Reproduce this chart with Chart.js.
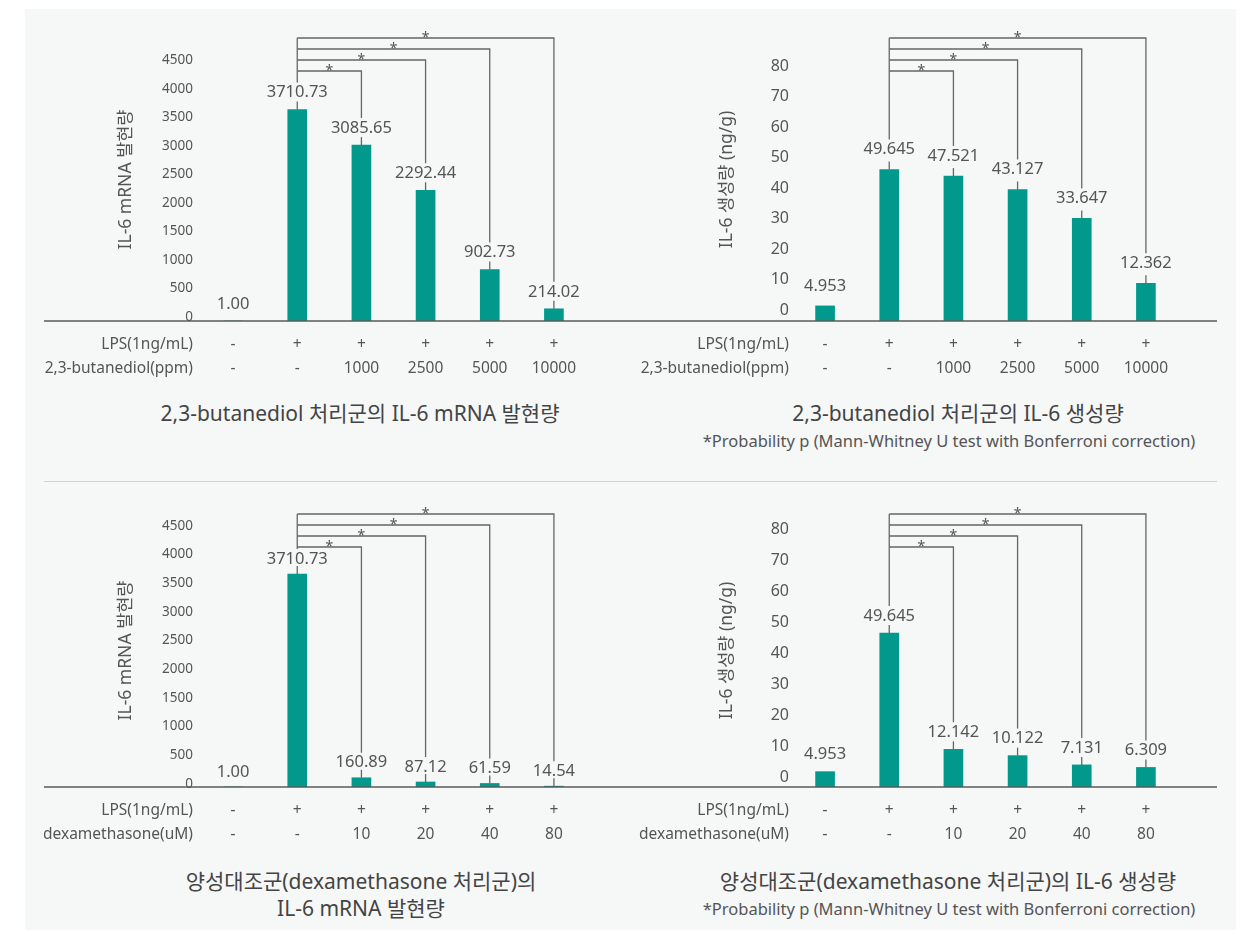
<!DOCTYPE html>
<html lang="ko">
<head>
<meta charset="UTF-8">
<title>IL-6 발현량 / 생성량</title>
<script src="https://cdn.jsdelivr.net/npm/chart.js"></script>
<style>
  body { margin: 0; background: #fff; font-family: "Noto Sans", "Noto Sans CJK KR", sans-serif; }
  #panel { position: absolute; left: 25px; top: 9px; width: 1211px; height: 921px; background: #f6f7f7; }
  canvas { position: absolute; }
  #divider { position: absolute; left: 44px; top: 481px; width: 1173px; height: 1px; background: #cfd3d3; }
  .t { position: absolute; color: #444; font-size: 21px; white-space: nowrap; transform: translate(-50%, -50%); }
  .note { font-size: 16.5px; color: #555; }
</style>
</head>
<body>
<div id="panel"></div>
<div id="divider"></div>
<canvas id="c1" width="576" height="380" style="left:44px;top:10px"></canvas>
<canvas id="c2" width="597" height="380" style="left:620px;top:10px"></canvas>
<canvas id="c3" width="576" height="370" style="left:44px;top:485px"></canvas>
<canvas id="c4" width="597" height="370" style="left:620px;top:485px"></canvas>

<div class="t" style="left:360px;top:412px">2,3-butanediol 처리군의 IL-6 mRNA 발현량</div>
<div class="t" style="left:958px;top:412px">2,3-butanediol 처리군의 IL-6 생성량</div>
<div class="t note" style="left:949px;top:440px">*Probability p (Mann-Whitney U test with Bonferroni correction)</div>
<div class="t" style="left:361px;top:880px">양성대조군(dexamethasone 처리군)의</div>
<div class="t" style="left:361px;top:907px">IL-6 mRNA 발현량</div>
<div class="t" style="left:948px;top:880px">양성대조군(dexamethasone 처리군)의 IL-6 생성량</div>
<div class="t note" style="left:949px;top:908px">*Probability p (Mann-Whitney U test with Bonferroni correction)</div>

<script>
// treatment rows under each chart
const lpsRow = ['-', '+', '+', '+', '+', '+'];
const butanediolPpm = ['-', '-', '1000', '2500', '5000', '10000'];
const dexamethasoneUM = ['-', '-', '10', '20', '40', '80'];

// values
const butanediolMRNA = [1.00, 3710.73, 3085.65, 2292.44, 902.73, 214.02];
const butanediolIL6 = [4.953, 49.645, 47.521, 43.127, 33.647, 12.362];
const dexMRNA = [1.00, 3710.73, 160.89, 87.12, 61.59, 14.54];
const dexIL6 = [4.953, 49.645, 12.142, 10.122, 7.131, 6.309];

// y tick labels
const mrnaTicks = [0, 500, 1000, 1500, 2000, 2500, 3000, 3500, 4000, 4500];
const il6Ticks = [0, 10, 20, 30, 40, 50, 60, 70, 80];

// significance brackets: LPS group vs each treated group
const bracketPairs = [[1, 5], [1, 4], [1, 3], [1, 2]];

const FONT = '"Noto Sans", "Noto Sans CJK KR", sans-serif';
const TEXT = '#555';

const figurePlugin = {
  id: 'figure',
  afterDatasetsDraw(chart, args, o) {
    const ctx = chart.ctx;
    const xs = chart.scales.x, ys = chart.scales.y;
    const area = chart.chartArea;
    const bars = chart.getDatasetMeta(0).data;
    const values = chart.data.datasets[0].data;
    const base = ys.getPixelForValue(0);
    ctx.save();

    // baseline
    ctx.strokeStyle = '#5a5a5a';
    ctx.lineWidth = 1.5;
    ctx.beginPath();
    ctx.moveTo(0, base);
    ctx.lineTo(chart.width, base);
    ctx.stroke();

    // value labels + stubs
    ctx.font = '16.5px ' + FONT;
    ctx.fillStyle = TEXT;
    ctx.textAlign = 'center';
    ctx.textBaseline = 'middle';
    const labelTop = [];
    bars.forEach((b, i) => {
      const ly = b.y - o.labelGap;
      ctx.fillText(values[i].toFixed(o.decimals), b.x, ly);
      labelTop[i] = ly - 10;
      if (i > 0) {
        ctx.strokeStyle = '#666';
        ctx.lineWidth = 1.3;
        ctx.beginPath();
        ctx.moveTo(b.x, b.y - 8);
        ctx.lineTo(b.x, b.y);
        ctx.stroke();
      }
    });

    // brackets
    ctx.strokeStyle = '#666';
    ctx.lineWidth = 1.3;
    ctx.font = '14px ' + FONT;
    ctx.textBaseline = 'alphabetic';
    bracketPairs.forEach(([a, b], k) => {
      const yl = area.top + k * 11;
      const xa = bars[a].x, xb = bars[b].x;
      ctx.beginPath();
      ctx.moveTo(xa, yl);
      ctx.lineTo(xb, yl);
      ctx.lineTo(xb, labelTop[b]);
      ctx.stroke();
      ctx.fillText('*', (xa + xb) / 2, yl + 4);
    });
    const a0 = bracketPairs[0][0];
    ctx.beginPath();
    ctx.moveTo(bars[a0].x, area.top);
    ctx.lineTo(bars[a0].x, labelTop[a0]);
    ctx.stroke();

    // y title
    ctx.save();
    ctx.translate(o.titleX, (area.top + area.bottom) / 2);
    ctx.rotate(-Math.PI / 2);
    ctx.font = '17.5px ' + FONT;
    ctx.textBaseline = 'middle';
    ctx.fillText(o.yTitle, 0, 0);
    ctx.restore();

    // treatment rows
    ctx.font = '15.5px ' + FONT;
    ctx.textBaseline = 'middle';
    o.rows.forEach((row, r) => {
      const ry = base + 24 + r * 24;
      ctx.textAlign = 'right';
      ctx.fillText(o.rowHeaders[r], area.left - o.tickPad, ry);
      ctx.textAlign = 'center';
      row.forEach((txt, i) => ctx.fillText(txt, xs.getPixelForValue(i), ry));
    });
    ctx.restore();
  }
};

function makeChart(id, values, rows, rowHeaders, yTicks, s) {
  return new Chart(document.getElementById(id), {
    type: 'bar',
    data: {
      labels: rows[0].map((v, i) => [v, rows[1][i]]),
      datasets: [{ data: values, backgroundColor: '#00998c', barThickness: 19 }]
    },
    options: {
      responsive: false,
      animation: false,
      layout: { padding: { left: 0, right: s.padRight, top: s.padTop, bottom: s.padBottom } },
      plugins: {
        legend: { display: false },
        tooltip: { enabled: false },
        figure: Object.assign({ rows, rowHeaders }, s)
      },
      scales: {
        x: { display: false },
        y: {
          min: 0,
          max: s.max,
          afterFit: sc => { sc.width = s.axisWidth; },
          afterBuildTicks: sc => { sc.ticks = yTicks.map(v => ({ value: v })); },
          ticks: {
            autoSkip: false,
            callback: v => String(v),
            labelOffset: s.labelOffset,
            padding: s.tickPad,
            color: TEXT,
            font: { family: FONT, size: s.tickSize }
          },
          grid: { display: false, drawTicks: false },
          border: { display: false }
        }
      }
    },
    plugins: [figurePlugin]
  });
}

makeChart('c1', butanediolMRNA, [lpsRow, butanediolPpm], ['LPS(1ng/mL)', '2,3-butanediol(ppm)'], mrnaTicks, {
  yTitle: 'IL-6 mRNA 발현량', titleX: 82, decimals: 2, labelGap: 17,
  max: 4965, labelOffset: -4, tickPad: 8, tickSize: 13.5,
  axisWidth: 157, padRight: 34, padTop: 28, padBottom: 69
});
makeChart('c2', butanediolIL6, [lpsRow, butanediolPpm], ['LPS(1ng/mL)', '2,3-butanediol(ppm)'], il6Ticks, {
  yTitle: 'IL-6 생성량 (ng/g)', titleX: 107, decimals: 3, labelGap: 20,
  max: 92.8, labelOffset: -11, tickPad: 4, tickSize: 16,
  axisWidth: 173, padRight: 39, padTop: 28, padBottom: 69
});
makeChart('c3', dexMRNA, [lpsRow, dexamethasoneUM], ['LPS(1ng/mL)', 'dexamethasone(uM)'], mrnaTicks, {
  yTitle: 'IL-6 mRNA 발현량', titleX: 82, decimals: 2, labelGap: 15,
  max: 4756, labelOffset: -3, tickPad: 8, tickSize: 13.5,
  axisWidth: 157, padRight: 34, padTop: 29, padBottom: 68
});
makeChart('c4', dexIL6, [lpsRow, dexamethasoneUM], ['LPS(1ng/mL)', 'dexamethasone(uM)'], il6Ticks, {
  yTitle: 'IL-6 생성량 (ng/g)', titleX: 107, decimals: 3, labelGap: 17,
  max: 88.06, labelOffset: -10, tickPad: 4, tickSize: 16,
  axisWidth: 173, padRight: 39, padTop: 29, padBottom: 68
});
</script>
</body>
</html>
